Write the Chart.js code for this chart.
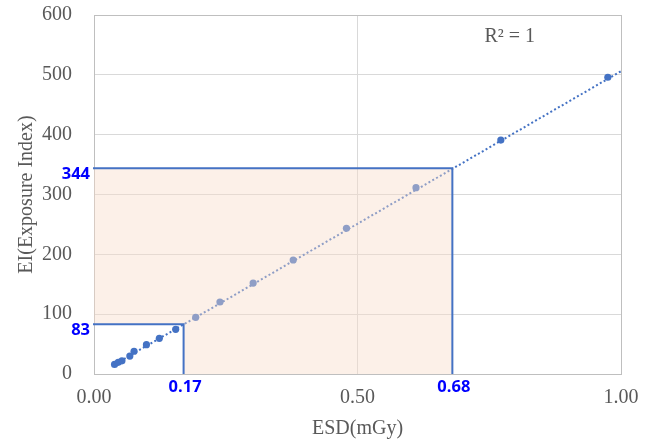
<!DOCTYPE html>
<html>
<head>
<meta charset="utf-8">
<script src="https://cdn.jsdelivr.net/npm/chart.js@4"></script>
<style>
  html, body { margin: 0; padding: 0; background: #ffffff; }
  #wrap { width: 652px; height: 441px; }
</style>
</head>
<body>
<div id="wrap"><canvas id="c" width="652" height="441"></canvas></div>
<script>
// ---- data ----
const esdValues = [0.039, 0.046, 0.053, 0.068, 0.076, 0.0995, 0.124, 0.155, 0.193, 0.239, 0.302, 0.378, 0.479, 0.611, 0.772, 0.975];
const eiValues  = [16, 19.5, 22, 30, 38, 49, 59.7, 74.7, 94.7, 120.3, 152, 190.5, 243.5, 311.4, 391, 496];
const trendX = [0.035, 1.0];
const trendY = [14, 506];
const esdCutoffs = [0.17, 0.68];
const eiCutoffs = [83, 344];
const cutoffLabelsX = ['0.17', '0.68'];
const cutoffLabelsY = ['83', '344'];
const r2Label = 'R\u00B2 = 1';
const xTitle = 'ESD(mGy)';
const yTitle = 'EI(Exposure Index)';

const points = esdValues.map((x, i) => ({ x: x, y: eiValues[i] }));
const trend = trendX.map((x, i) => ({ x: x, y: trendY[i] }));

const GRID = '#d9d9d9';
const EDGE = '#bfbfbf';
const TXT = '#595959';
const BLUE = '#4472C4';
const serif = '"Liberation Serif", "Times New Roman", serif';

const overlayPlugin = {
  id: 'overlay',
  afterDatasetsDraw(chart) {
    const { ctx, scales: { x, y } } = chart;
    const xs = esdCutoffs.map(v => x.getPixelForValue(v));
    const ys = eiCutoffs.map(v => y.getPixelForValue(v));
    const x0 = x.getPixelForValue(0);
    const y0 = y.getPixelForValue(0);
    ctx.save();
    ctx.beginPath();
    ctx.moveTo(x0, ys[1]);
    ctx.lineTo(xs[1], ys[1]);
    ctx.lineTo(xs[1], y0);
    ctx.lineTo(xs[0], y0);
    ctx.lineTo(xs[0], ys[0]);
    ctx.lineTo(x0, ys[0]);
    ctx.closePath();
    ctx.fillStyle = 'rgba(247,220,201,0.42)';
    ctx.fill();
    ctx.strokeStyle = BLUE;
    ctx.lineWidth = 2;
    for (let i = 0; i < 2; i++) {
      ctx.beginPath();
      ctx.moveTo(x0 - 1, ys[i]);
      ctx.lineTo(xs[i], ys[i]);
      ctx.lineTo(xs[i], y0);
      ctx.stroke();
    }
    ctx.restore();
  },
  afterDraw(chart) {
    const { ctx, scales: { x, y } } = chart;
    const x0 = x.getPixelForValue(0);
    const y0 = y.getPixelForValue(0);
    ctx.save();
    ctx.fillStyle = '#0000FF';
    ctx.font = 'bold 16.5px "Open Sans", "Liberation Sans", sans-serif';
    ctx.textBaseline = 'middle';
    ctx.textAlign = 'right';
    eiCutoffs.forEach((v, i) => {
      ctx.fillText(cutoffLabelsY[i], x0 - 4, y.getPixelForValue(v) + 6);
    });
    ctx.textAlign = 'center';
    esdCutoffs.forEach((v, i) => {
      ctx.fillText(cutoffLabelsX[i], x.getPixelForValue(v) + 1.5, y0 + 13.5);
    });
    ctx.fillStyle = TXT;
    ctx.font = '20px ' + serif;
    ctx.textAlign = 'center';
    ctx.fillText(r2Label, x.getPixelForValue(0.789), y.getPixelForValue(563));
    ctx.restore();
  }
};

function gridColor(ctx, edgeVals) {
  if (!ctx.tick) return GRID;
  return edgeVals.includes(ctx.tick.value) ? EDGE : GRID;
}

new Chart(document.getElementById('c'), {
  type: 'scatter',
  data: {
    datasets: [
      {
        label: 'EI',
        data: points,
        backgroundColor: BLUE,
        borderColor: BLUE,
        borderWidth: 0,
        pointRadius: 3.6,
        pointHoverRadius: 3.6,
        order: 1
      },
      {
        label: 'trend',
        type: 'line',
        data: trend,
        borderColor: BLUE,
        borderWidth: 2,
        borderDash: [2, 2.4],
        pointRadius: 0,
        fill: false,
        tension: 0,
        order: 2
      }
    ]
  },
  options: {
    responsive: false,
    animation: false,
    devicePixelRatio: 1,
    layout: { padding: { top: 15, right: 31, left: 0, bottom: 0 } },
    plugins: { legend: { display: false }, tooltip: { enabled: false } },
    scales: {
      x: {
        type: 'linear',
        min: 0, max: 1,
        ticks: {
          stepSize: 0.5,
          padding: 12,
          color: TXT,
          font: { family: serif, size: 20 },
          maxRotation: 0,
          callback: v => Number(v).toFixed(2)
        },
        grid: { color: c => gridColor(c, [1]), drawTicks: false, lineWidth: 1 },
        border: { color: EDGE, width: 1 },
        title: { display: true, text: xTitle, color: TXT, font: { family: serif, size: 20 }, padding: { top: 0, bottom: 0 } },
        afterFit: s => { s.height = 67; }
      },
      y: {
        type: 'linear',
        min: 0, max: 600,
        ticks: {
          stepSize: 100,
          padding: 3,
          color: TXT,
          font: { family: serif, size: 20 }
        },
        grid: { color: c => gridColor(c, [600]), drawTicks: true, tickLength: 19, tickColor: 'rgba(0,0,0,0)', lineWidth: 1 },
        border: { color: EDGE, width: 1 },
        title: { display: true, text: yTitle, color: TXT, font: { family: serif, size: 20 }, padding: { top: 15, bottom: 0 } },
        afterFit: s => { s.width = 94; }
      }
    }
  },
  plugins: [overlayPlugin]
});
</script>
</body>
</html>
